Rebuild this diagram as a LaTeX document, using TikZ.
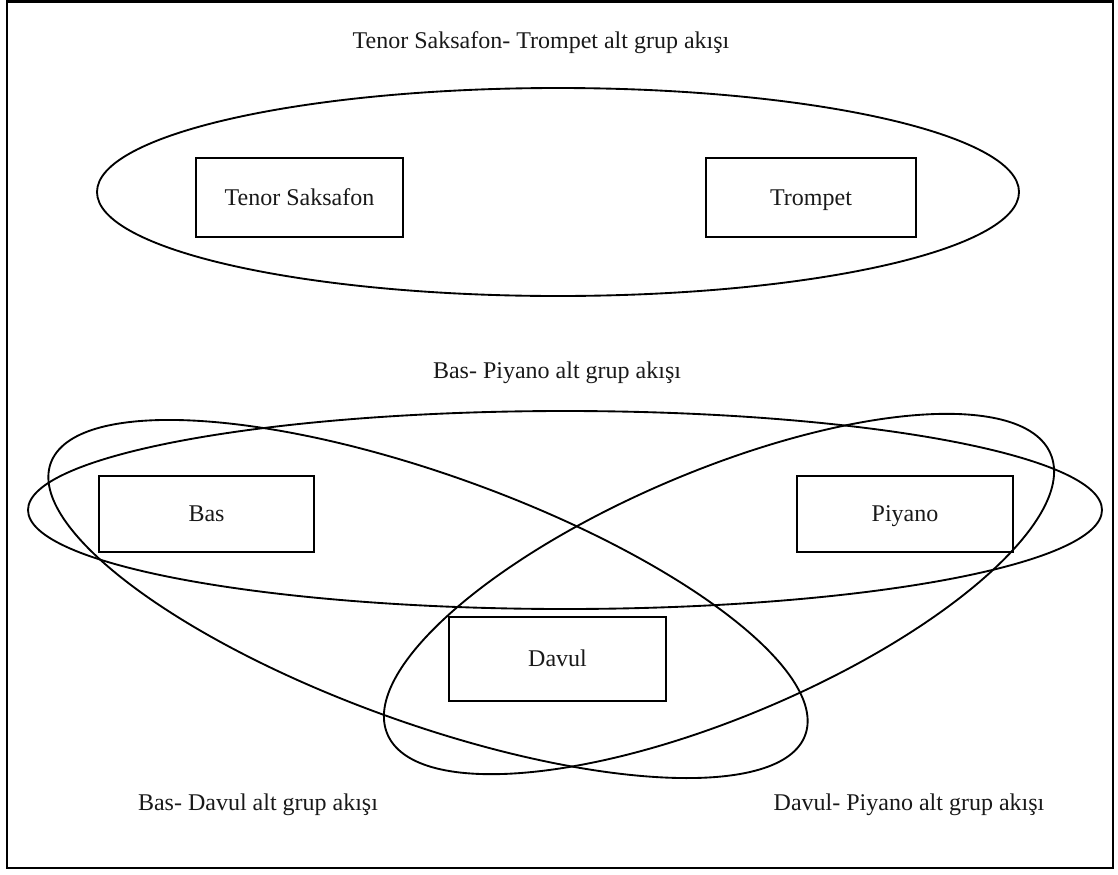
\documentclass[tikz,border=0pt]{standalone}
\usepackage{fontspec}
\setmainfont{Liberation Serif}
\usetikzlibrary{shapes.geometric}
\begin{document}
\begin{tikzpicture}[x=0.75pt,y=-0.75pt,
  every node/.style={font=\fontsize{18}{21}\selectfont, text=black!90},
  instbox/.style={draw, line width=1.4pt, rectangle, inner sep=0pt,
    text height=11.9pt, text depth=0pt},
  grouploop/.style={draw, line width=1.4pt, ellipse, inner sep=0pt},
  caption/.style={anchor=base}]
\useasboundingbox (0,0) rectangle (1118,875);
% outer frame
\draw[line width=1.9pt] (7,1.5) rectangle (1113,868);

% group outlines
\node[grouploop, minimum width=691.5pt, minimum height=156pt] (gts) at (558,192) {};
\node[grouploop, minimum width=805.5pt, minimum height=148.5pt] (gbp) at (565,510) {};
\node[grouploop, minimum width=601.5pt, minimum height=186pt, rotate=-19.8] (gbd) at (428,599) {};
\node[grouploop, minimum width=540pt, minimum height=184.5pt, rotate=22.9] (gdp) at (719,594) {};

% instruments
\node[instbox, minimum width=155.25pt, minimum height=59.25pt] (ts) at (299.5,197.5) {Tenor Saksafon};
\node[instbox, minimum width=157.5pt, minimum height=59.25pt] (tr) at (811,197.5) {Trompet};
\node[instbox, minimum width=161.25pt, minimum height=57pt] (bas) at (206.5,514) {Bas};
\node[instbox, minimum width=162pt, minimum height=57pt] (pi) at (905,514) {Piyano};
\node[instbox, minimum width=162.75pt, minimum height=63pt] (dv) at (557.5,659) {Davul};

% captions
\node[caption] (lts) at (541,48) {Tenor Saksafon- Trompet alt grup akışı};
\node[caption] (lbp) at (557,378) {Bas- Piyano alt grup akışı};
\node[caption] (lbd) at (258,810) {Bas- Davul alt grup akışı};
\node[caption] (ldp) at (909,810) {Davul- Piyano alt grup akışı};
\end{tikzpicture}
\end{document}
